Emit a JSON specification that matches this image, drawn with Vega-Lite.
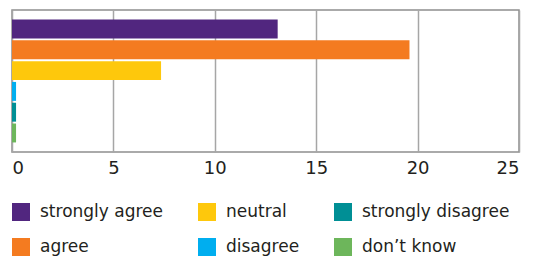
{
  "$schema": "https://vega.github.io/schema/vega-lite/v6.json",
  "width": 507,
  "height": 142,
  "autosize": {"type": "none"},
  "padding": {"left": 12, "top": 10, "right": 22, "bottom": 104},
  "config": {
    "view": {"stroke": "#8f8f8f", "strokeWidth": 1.5},
    "font": "DejaVu Sans"
  },
  "data": {
    "values": [
      {"response": "strongly agree", "value": 13.1, "order": 1},
      {"response": "agree", "value": 19.6, "order": 2},
      {"response": "neutral", "value": 7.35, "order": 3},
      {"response": "disagree", "value": 0.2, "order": 4},
      {"response": "strongly disagree", "value": 0.2, "order": 5},
      {"response": "don’t know", "value": 0.2, "order": 6}
    ]
  },
  "mark": {"type": "bar"},
  "encoding": {
    "y": {
      "field": "response",
      "type": "nominal",
      "sort": {"field": "order"},
      "axis": null,
      "scale": {"paddingInner": 0.09, "paddingOuter": 0.46}
    },
    "x": {
      "field": "value",
      "type": "quantitative",
      "scale": {"domain": [0, 25]},
      "axis": {
        "title": null,
        "values": [0, 5, 10, 15, 20, 25],
        "grid": true,
        "gridColor": "#a6a6a6",
        "gridWidth": 1.5,
        "domain": false,
        "ticks": false,
        "labelFlush": true,
        "labelFontSize": 18,
        "labelColor": "#231f20",
        "labelPadding": 7,
        "labelFont": "DejaVu Sans"
      }
    },
    "color": {
      "field": "response",
      "type": "nominal",
      "scale": {
        "domain": ["strongly agree", "neutral", "strongly disagree", "agree", "disagree", "don’t know"],
        "range": ["#51267f", "#fec80c", "#008f95", "#f47b20", "#00aeef", "#6db65b"]
      },
      "legend": {
        "title": null,
        "orient": "none",
        "legendX": 0,
        "legendY": 193,
        "direction": "horizontal",
        "columns": 3,
        "symbolType": "square",
        "symbolSize": 324,
        "symbolStrokeWidth": 0,
        "symbolOpacity": 1,
        "labelFont": "DejaVu Sans",
        "labelFontSize": 17,
        "labelColor": "#231f20",
        "labelOffset": 10,
        "columnPadding": 34,
        "rowPadding": 17,
        "labelLimit": 300
      }
    }
  }
}
